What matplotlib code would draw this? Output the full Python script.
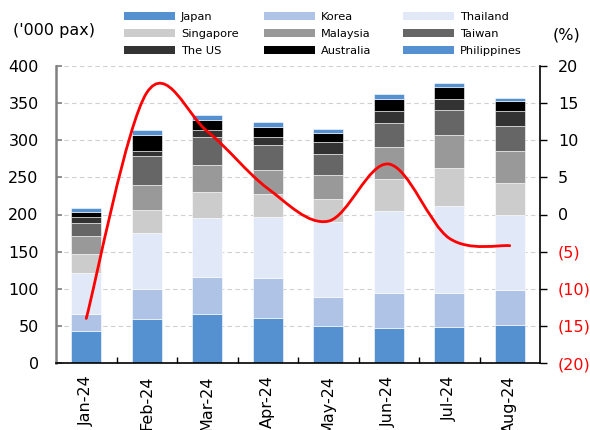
import matplotlib
matplotlib.use("Agg")
import matplotlib.pyplot as plt
from matplotlib.path import Path
from matplotlib.patches import PathPatch, Patch
import numpy as np

months = ["Jan-24", "Feb-24", "Mar-24", "Apr-24", "May-24", "Jun-24", "Jul-24", "Aug-24"]
countries = ["Japan", "Korea", "Thailand", "Singapore", "Malaysia", "Taiwan",
             "The US", "Australia", "Philippines"]
japan = [43.5, 59.3, 66.4, 61.0, 50.3, 47.6, 48.9, 51.6]
korea = [22.0, 39.9, 49.4, 53.5, 38.6, 47.1, 45.8, 47.2]
thailand = [55.7, 75.4, 79.0, 82.1, 101.0, 110.5, 117.2, 101.0]
singapore = [26.0, 31.4, 35.5, 30.5, 31.0, 43.0, 50.3, 43.1]
malaysia = [24.3, 33.7, 36.3, 33.3, 32.3, 42.7, 44.8, 42.6]
taiwan = [17.0, 38.6, 37.8, 33.2, 27.8, 32.8, 33.7, 33.7]
the_us = [8.0, 7.7, 8.9, 10.8, 16.6, 15.7, 14.8, 19.7]
australia = [7.2, 21.0, 14.4, 13.4, 11.7, 16.1, 16.6, 14.4]
philippines = [5.0, 6.3, 5.8, 6.8, 6.3, 7.2, 4.5, 4.0]
growth = [-14.0, 16.4, 11.2, 3.5, -0.9, 6.8, -3.2, -4.2]

series = [japan, korea, thailand, singapore, malaysia, taiwan, the_us, australia, philippines]
colors = ["#5591D0", "#AEC3E5", "#E1E8F7", "#CCCCCC", "#999999", "#666666",
          "#333333", "#000000", "#5591D0"]

plt.rcParams['font.family'] = ['DejaVu Sans']
FS = 11.5

fig = plt.figure(figsize=(5.9, 4.3), dpi=100)
ax = fig.add_axes([56/590, 1-363/430, (540-56)/590, (363-66)/430])
x = np.arange(len(months))
bottom = np.zeros(len(months))
for vals, c in zip(series, colors):
    ax.bar(x, vals, 0.5, bottom=bottom, color=c, edgecolor="white", linewidth=0.4, zorder=2)
    bottom += np.array(vals)

ax.set_xlim(-0.5, len(months) - 0.5)
ax.set_ylim(0, 400)
ax.set_yticks(np.arange(0, 401, 50))
ax.yaxis.grid(True, linestyle=(0, (4, 3)), color="#D0D0D0", linewidth=0.8, zorder=0)
ax.set_axisbelow(True)
ax.tick_params(axis="y", direction="in", length=4, width=1.2, color="#808080",
               labelsize=FS, pad=12.5)
ax.set_xticks(x)
ax.set_xticklabels(months, rotation=90, fontsize=FS)
ax.tick_params(axis="x", length=0, pad=9)
ax.set_xticks(np.arange(0.5, len(months) - 0.5, 1), minor=True)
ax.tick_params(axis="x", which="minor", direction="in", length=4, width=1, color="black")
ax.spines["top"].set_visible(False)
ax.spines["left"].set_color("#808080")
ax.spines["left"].set_linewidth(1.8)
ax.spines["bottom"].set_color("black")
ax.spines["bottom"].set_linewidth(1.2)
ax.spines["right"].set_visible(False)

ax2 = ax.twinx()
ax2.set_ylim(-20, 20)
ax2.set_yticks(np.arange(-20, 21, 5))
ax2.set_yticklabels([f"({abs(v)})" if v < 0 else str(v) for v in range(-20, 21, 5)])
for lbl, v in zip(ax2.get_yticklabels(), range(-20, 21, 5)):
    lbl.set_color("red" if v < 0 else "black")
ax2.tick_params(axis="y", direction="out", length=5, width=1, labelsize=FS, pad=8)
for s in ["top", "left", "bottom"]:
    ax2.spines[s].set_visible(False)
ax2.spines["right"].set_color("black")
ax2.spines["right"].set_linewidth(1.2)

# smooth line (Catmull-Rom as cubic Bezier)
pts = np.column_stack([x.astype(float), np.array(growth)])
verts = [tuple(pts[0])]
codes = [Path.MOVETO]
n = len(pts)
for i in range(n - 1):
    p0 = pts[i - 1] if i > 0 else pts[i]
    p1 = pts[i]
    p2 = pts[i + 1]
    p3 = pts[i + 2] if i + 2 < n else pts[i + 1]
    c1 = p1 + (p2 - p0) / 6.0
    c2 = p2 - (p3 - p1) / 6.0
    verts += [tuple(c1), tuple(c2), tuple(p2)]
    codes += [Path.CURVE4] * 3
ax2.add_patch(PathPatch(Path(verts, codes), facecolor="none", edgecolor="red",
                        linewidth=2.0, zorder=5, capstyle="round"))

fig.text(13/590, 1-30/430, "('000 pax)", fontsize=FS, va="center", ha="left")
fig.text(553/590, 1-35/430, "(%)", fontsize=FS, va="center", ha="left")

handles = [Patch(facecolor=c, edgecolor="none") for c in colors]
col_x = [124, 264, 403]
for j in range(3):
    idx = [j, j + 3, j + 6]
    fig.legend([handles[i] for i in idx], [countries[i] for i in idx], ncol=1,
               loc="upper left", bbox_to_anchor=(col_x[j]/590, 1-12/430),
               frameon=False, fontsize=8.2,
               handlelength=4.5, handleheight=0.7, handletextpad=0.5,
               labelspacing=0.6, borderaxespad=0, borderpad=0)

fig.savefig("out.png", dpi=100)
